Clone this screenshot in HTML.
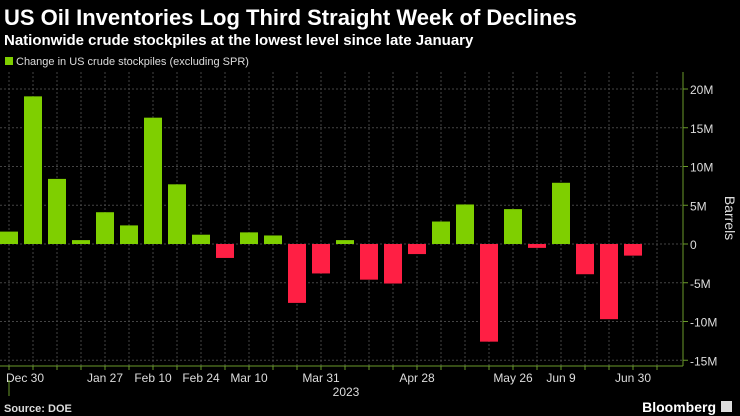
<!DOCTYPE html>
<html><head><meta charset="utf-8"><style>
body{margin:0;background:#000;width:740px;height:416px;overflow:hidden;font-family:"Liberation Sans",sans-serif;color:#fff}
svg{position:absolute;left:0;top:0}
</style></head><body>
<svg width="740" height="416">
<text x="4" y="25" font-size="22" font-weight="bold" fill="#fff">US Oil Inventories Log Third Straight Week of Declines</text>
<text x="4" y="45" font-size="15" font-weight="bold" fill="#fff">Nationwide crude stockpiles at the lowest level since late January</text>
<rect x="5" y="57" width="8" height="8" fill="#7fcf00"/>
<text x="16" y="65" font-size="11" fill="#ddd">Change in US crude stockpiles (excluding SPR)</text>
<g id="grid"></g><g id="bars"></g><g id="axes"></g>
<text x="0" y="0" font-size="14" fill="#ddd" transform="translate(725,218) rotate(90)" text-anchor="middle">Barrels</text>
<text x="346" y="396" font-size="12" fill="#ddd" text-anchor="middle">2023</text>
<line x1="9" y1="380" x2="9" y2="396" stroke="#6a9a2a"/>
<text x="4" y="412" font-size="11" font-weight="bold" fill="#ddd">Source: DOE</text>
<text x="716" y="412" font-size="14" font-weight="bold" fill="#fff" text-anchor="end">Bloomberg</text>
<rect x="721" y="401" width="11" height="11" fill="#ddd"/>
</svg>
<script>
const values=[1.6,19.05,8.4,0.5,4.1,2.4,16.3,7.7,1.2,-1.8,1.5,1.1,-7.6,-3.8,0.5,-4.6,-5.1,-1.3,2.9,5.1,-12.6,4.5,-0.5,7.9,-3.9,-9.7,-1.5];
const xLabels=["Dec 30","Jan 27","Feb 10","Feb 24","Mar 10","Mar 31","Apr 28","May 26","Jun 9","Jun 30"];
const xLabelIdx=[0,4,6,8,10,13,17,21,23,26];
const yTicks=[20,15,10,5,0,-5,-10,-15];
const NS="http://www.w3.org/2000/svg";
const x=i=>9+24*i, y=v=>244-v*7.75;
function mk(p,t,a){const e=document.createElementNS(NS,t);for(const k in a)e.setAttribute(k,a[k]);p.appendChild(e);return e;}
const G=document.getElementById('grid'),B=document.getElementById('bars'),A=document.getElementById('axes');
for(let i=0;i<28;i++){const l=mk(G,'line',{x1:x(i),x2:x(i),y1:72,y2:366,stroke:'#444','stroke-dasharray':'2,2'});


const t=mk(A,'line',{x1:x(i),x2:x(i),y1:366,y2:370,stroke:'#6a9a2a'});

}
yTicks.forEach(v=>{const l=mk(G,'line',{x1:0,x2:683,y1:y(v),y2:y(v),stroke:'#444','stroke-dasharray':'2,2'});


mk(A,'line',{x1:683,x2:688,y1:y(v),y2:y(v),stroke:'#6a9a2a'});
const t=mk(A,'text',{x:690,y:y(v)+5,'font-size':12,fill:'#ddd'});t.textContent=(v<0?'-':'')+Math.abs(v)+(v?'M':'');

});
values.forEach((v,i)=>{const r=mk(B,'rect',{x:x(i)-9,width:18,y:Math.min(y(v),244),height:Math.abs(y(v)-244),fill:v>=0?'#7fcf00':'#ff1f44'});

});
mk(A,'line',{x1:0,x2:683,y1:366,y2:366,stroke:'#6a9a2a'});
mk(A,'line',{x1:683,x2:683,y1:72,y2:366,stroke:'#6a9a2a'});
xLabels.forEach((s,k)=>{let cx=x(xLabelIdx[k]);if(k==0)cx=25;const t=mk(A,'text',{x:cx,y:382,'font-size':12,fill:'#ddd','text-anchor':'middle'});t.textContent=s;

});
</script>
</body></html>
